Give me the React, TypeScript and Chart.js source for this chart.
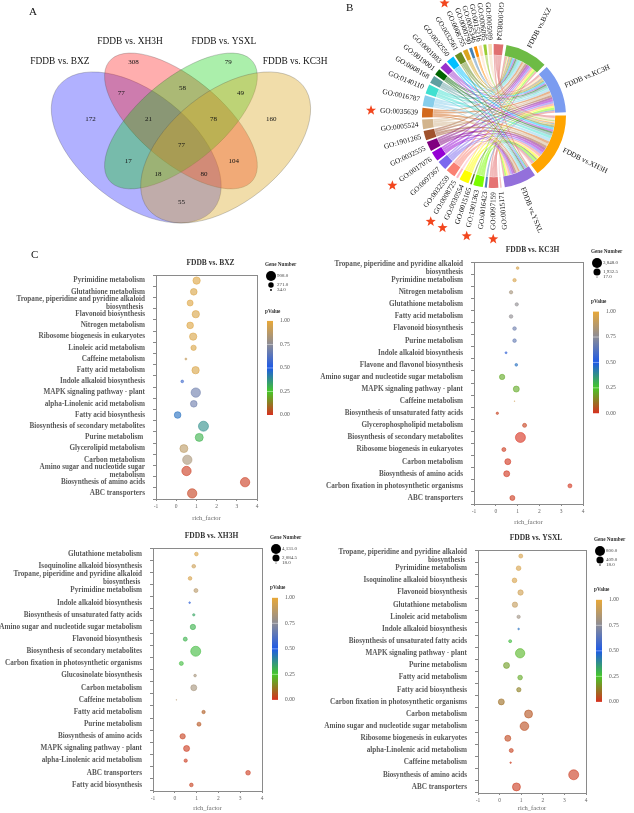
import React, { useEffect, useRef } from 'react';
import { Chart, registerables } from 'chart.js';
Chart.register(...registerables);

const SERIF = '"Liberation Serif", "Times New Roman", Times, serif';

// ---------------- Panel A : Venn ----------------
const vennSetNames = ['FDDB vs. BXZ', 'FDDB vs. XH3H', 'FDDB vs. YSXL', 'FDDB vs. KC3H'];
const vennSetLabelX = [0.094, 0.329, 0.644, 0.883];
const vennSetLabelY = [0.794, 0.869, 0.869, 0.794];
const vennEllipseX = [0.35, 0.5, 0.5, 0.65];
const vennEllipseY = [0.47, 0.57, 0.57, 0.47];
const vennEllipseA = [0.35, 0.33, 0.33, 0.35];
const vennEllipseB = [0.2, 0.15, 0.15, 0.2];
const vennEllipseRot = [135, 135, 45, 45];
const vennColors = ['rgba(40,40,255,0.36)', 'rgba(255,30,30,0.36)', 'rgba(0,205,0,0.33)', 'rgba(218,165,32,0.38)'];
const vennCounts = [172, 308, 79, 160, 77, 58, 49, 17, 104, 55, 21, 78, 18, 80, 77];
const vennCountX = [0.197, 0.341, 0.659, 0.803, 0.30, 0.505, 0.70, 0.323, 0.677, 0.502, 0.391, 0.609, 0.423, 0.577, 0.502];
const vennCountY = [0.576, 0.791, 0.791, 0.576, 0.675, 0.693, 0.675, 0.420, 0.420, 0.263, 0.576, 0.576, 0.370, 0.370, 0.479];

// ---------------- Panel B : chord ----------------
const comparisons = ['FDDB vs.BXZ', 'FDDB vs.KC3H', 'FDDB vs.XH3H', 'FDDB vs.YSXL'];
const compColors = ['#6dbb45', '#7b9cf0', '#ffa500', '#9370db'];
const goTerms = ['GO:0015171', 'GO:0097159', 'GO:0016423', 'GO:1901363', 'GO:0015165', 'GO:0030554', 'GO:0008725',
  'GO:0032559', 'GO:0097367', 'GO:0017076', 'GO:0032555', 'GO:1901265', 'GO:0005524', 'GO:0035639', 'GO:0016787',
  'GO:0140110', 'GO:0008168', 'GO:0019001', 'GO:0001883', 'GO:0032550', 'GO:0032561', 'GO:0008755', 'GO:0000790',
  'GO:0005346', 'GO:0015216', 'GO:0006085', 'GO:0005089', 'GO:0008324'];
const goColors = ['#f4c2c2', '#e57373', '#4f81bd', '#7cfc00', '#556b2f', '#ffff00', '#ffb6c1',
  '#fa8072', '#7b68ee', '#9400d3', '#800080', '#a0522d', '#d2b48c', '#d2691e', '#87ceeb',
  '#40e0d0', '#5f9ea0', '#006400', '#9932cc', '#00bfff', '#6b8e23', '#daa520', '#4682b4',
  '#ff8c00', '#ffdab9', '#9acd32', '#f5deb3', '#e07070'];
const goStarred = ['GO:0097159', 'GO:1901363', 'GO:0030554', 'GO:0008725', 'GO:0017076', 'GO:0035639', 'GO:0008755'];
// link weights: [BXZ, KC3H, XH3H, YSXL]
const goLinks = [
  [0, 0, 1.2, 0], [1.8, 2.1, 2.5, 1.6], [0, 1.0, 0.8, 0], [1.8, 2.1, 2.5, 1.6], [0, 0, 1.2, 0],
  [1.8, 2.1, 2.5, 1.6], [0, 0, 0.8, 1.0], [1.8, 2.1, 2.5, 1.6], [1.8, 2.1, 2.5, 1.6], [1.8, 2.1, 2.5, 1.6],
  [1.8, 2.1, 2.5, 1.6], [1.8, 2.1, 2.5, 1.6], [1.8, 2.1, 2.5, 1.6], [1.8, 2.1, 2.5, 1.6], [2.0, 2.4, 3.0, 1.6],
  [2.4, 1.6, 2.8, 1.2], [1.2, 2.0, 2.3, 1.0], [1.3, 1.4, 1.8, 1.0], [1.4, 1.5, 2.0, 1.1], [1.5, 1.6, 2.2, 1.2],
  [1.4, 1.5, 2.0, 1.1], [1.2, 1.4, 1.4, 0], [0.8, 0.9, 0.8, 0], [0.8, 0.8, 0.9, 0], [0.8, 0.8, 0.9, 0],
  [1.0, 0, 1.5, 0], [0, 1.2, 1.8, 0], [1.8, 2.1, 2.5, 1.6],
];

// ---------------- Panel C : bubbles ----------------
const TROPANE = ['Tropane, piperidine and pyridine alkaloid', 'biosynthesis '];

const bxzPathways = ['Pyrimidine metabolism', 'Glutathione metabolism', TROPANE, 'Flavonoid biosynthesis',
  'Nitrogen metabolism', 'Ribosome biogenesis in eukaryotes', 'Linoleic acid metabolism', 'Caffeine metabolism',
  'Fatty acid metabolism', 'Indole alkaloid biosynthesis', 'MAPK signaling pathway - plant',
  'alpha-Linolenic acid metabolism', 'Fatty acid biosynthesis', 'Biosynthesis of secondary metabolites',
  'Purine metabolism ', 'Glycerolipid metabolism', 'Carbon metabolism', ['Amino sugar and nucleotide sugar', 'metabolism'],
  'Biosynthesis of amino acids', 'ABC transporters'];
const bxzRich = [1.01, 0.87, 0.69, 0.97, 0.69, 0.84, 0.86, 0.48, 0.96, 0.30, 0.97, 0.87, 0.07, 1.35, 1.14, 0.38, 0.55, 0.51, 3.41, 0.79];
const bxzGenes = [489, 403, 327, 489, 403, 489, 259, 34, 489, 64, 792, 403, 403, 908, 581, 581, 792, 792, 792, 792];
const bxzP = [0.97, 0.96, 0.97, 0.96, 0.97, 0.96, 0.96, 0.9, 0.96, 0.58, 0.68, 0.68, 0.45, 0.38, 0.3, 0.88, 0.83, 0.02, 0.02, 0.03];
const bxzLegend = [908, 271, 34];

const kc3hPathways = [['Tropane, piperidine and pyridine alkaloid', 'biosynthesis'], 'Pyrimidine metabolism',
  'Nitrogen metabolism', 'Glutathione metabolism', 'Fatty acid metabolism', 'Flavonoid biosynthesis',
  'Purine metabolism', 'Indole alkaloid biosynthesis', 'Flavone and flavonol biosynthesis',
  'Amino sugar and nucleotide sugar metabolism', 'MAPK signaling pathway - plant', 'Caffeine metabolism',
  'Biosynthesis of unsaturated fatty acids', 'Glycerophospholipid metabolism', 'Biosynthesis of secondary metabolites',
  'Ribosome biogenesis in eukaryotes', 'Carbon metabolism', 'Biosynthesis of amino acids',
  'Carbon fixation in photosynthetic organisms', 'ABC transporters'];
const kc3hRich = [1.0, 0.86, 0.70, 0.96, 0.70, 0.86, 0.86, 0.47, 0.94, 0.29, 0.94, 0.86, 0.07, 1.32, 1.13, 0.37, 0.55, 0.50, 3.40, 0.76];
const kc3hGenes = [272, 429, 429, 429, 499, 499, 499, 154, 272, 1097, 1385, 17, 211, 616, 3848, 616, 1385, 1385, 616, 962];
const kc3hP = [0.95, 0.95, 0.82, 0.76, 0.76, 0.68, 0.66, 0.55, 0.45, 0.2, 0.2, 0.92, 0.03, 0.03, 0.0, 0.02, 0.01, 0.01, 0.01, 0.02];
const kc3hLegend = [3848, 1932.5, 17];

const xh3hPathways = ['Glutathione metabolism', 'Isoquinoline alkaloid biosynthesis', TROPANE, 'Pyrimidine metabolism',
  'Indole alkaloid biosynthesis', 'Biosynthesis of unsaturated fatty acids', 'Amino sugar and nucleotide sugar metabolism',
  'Flavonoid biosynthesis', 'Biosynthesis of secondary metabolites', 'Carbon fixation in photosynthetic organisms',
  'Glucosinolate biosynthesis', 'Carbon metabolism', 'Caffeine metabolism', 'Fatty acid metabolism', 'Purine metabolism',
  'Biosynthesis of amino acids', 'MAPK signaling pathway - plant', 'alpha-Linolenic acid metabolism', 'ABC transporters',
  'Fatty acid biosynthesis'];
const xh3hRich = [0.99, 0.87, 0.70, 0.97, 0.68, 0.87, 0.83, 0.48, 0.96, 0.30, 0.93, 0.87, 0.07, 1.32, 1.11, 0.36, 0.54, 0.50, 3.36, 0.76];
const xh3hGenes = [553, 553, 553, 661, 114, 226, 1178, 661, 4131, 661, 292, 1487, 18, 461, 661, 1178, 1487, 461, 897, 553];
const xh3hP = [0.96, 0.92, 0.95, 0.87, 0.55, 0.33, 0.3, 0.3, 0.28, 0.28, 0.82, 0.82, 0.86, 0.07, 0.06, 0.03, 0.02, 0.02, 0.02, 0.03];
const xh3hLegend = [4131, 2084.5, 18];

const ysxlPathways = [TROPANE, 'Pyrimidine metabolism', 'Isoquinoline alkaloid biosynthesis', 'Flavonoid biosynthesis',
  'Glutathione metabolism', 'Linoleic acid metabolism', 'Indole alkaloid biosynthesis',
  'Biosynthesis of unsaturated fatty acids', 'MAPK signaling pathway - plant', 'Purine metabolism',
  'Fatty acid metabolism', 'Fatty acid biosynthesis', 'Carbon fixation in photosynthetic organisms', 'Carbon metabolism',
  'Amino sugar and nucleotide sugar metabolism', 'Ribosome biogenesis in eukaryotes', 'alpha-Linolenic acid metabolism',
  'Caffeine metabolism', 'Biosynthesis of amino acids', 'ABC transporters'];
const ysxlRich = [0.98, 0.88, 0.69, 0.97, 0.71, 0.88, 0.88, 0.49, 0.95, 0.32, 0.95, 0.89, 0.08, 1.34, 1.15, 0.38, 0.54, 0.51, 3.43, 0.78];
const ysxlGenes = [128, 174, 174, 228, 228, 89, 22, 72, 698, 288, 174, 151, 288, 512, 600, 288, 128, 18, 800, 512];
const ysxlP = [0.95, 0.95, 0.95, 0.93, 0.9, 0.8, 0.45, 0.28, 0.22, 0.18, 0.2, 0.13, 0.1, 0.06, 0.05, 0.04, 0.03, 0.02, 0.02, 0.02];
const ysxlLegend = [800, 409, 18];

const pTicks = [1.0, 0.75, 0.5, 0.25, 0.0];
const pStops = [0, 0.25, 0.5, 0.75, 1];
const pStopRGB = [[215, 48, 31], [70, 200, 40], [30, 90, 230], [140, 140, 150], [232, 168, 56]];

function pColor(p: number, a: number) {
  let k = 0;
  while (k < pStops.length - 2 && p > pStops[k + 1]) k++;
  const t = Math.max(0, Math.min(1, (p - pStops[k]) / (pStops[k + 1] - pStops[k])));
  const c = pStopRGB[k].map((v, m) => Math.round(v + (pStopRGB[k + 1][m] - v) * t));
  return `rgba(${c[0]},${c[1]},${c[2]},${a})`;
}
function hexA(hex: string, a: number) {
  const n = parseInt(hex.slice(1), 16);
  return `rgba(${(n >> 16) & 255},${(n >> 8) & 255},${n & 255},${a})`;
}

// ---------- Venn ----------
const vennPlugin = {
  id: 'venn',
  beforeDatasetsDraw(chart: any) {
    const { ctx } = chart;
    const xs = chart.scales.x, ys = chart.scales.y;
    const x0 = xs.getPixelForValue(0), x1 = xs.getPixelForValue(1);
    const y0 = ys.getPixelForValue(0), y1 = ys.getPixelForValue(1);
    for (let i = 0; i < vennEllipseX.length; i++) {
      ctx.save();
      ctx.transform(x1 - x0, 0, 0, y1 - y0, x0, y0);
      ctx.beginPath();
      ctx.ellipse(vennEllipseX[i], vennEllipseY[i], vennEllipseA[i], vennEllipseB[i], (vennEllipseRot[i] * Math.PI) / 180, 0, Math.PI * 2);
      ctx.restore();
      ctx.save();
      ctx.fillStyle = vennColors[i];
      ctx.fill();
      ctx.strokeStyle = 'rgba(70,70,70,0.45)';
      ctx.lineWidth = 0.6;
      ctx.stroke();
      ctx.restore();
    }
  },
  afterDatasetsDraw(chart: any) {
    const { ctx } = chart;
    ctx.save();
    ctx.fillStyle = '#111';
    ctx.textAlign = 'center';
    ctx.textBaseline = 'middle';
    ctx.font = `7px ${SERIF}`;
    chart.getDatasetMeta(0).data.forEach((pt: any, i: number) => ctx.fillText(String(vennCounts[i]), pt.x, pt.y));
    ctx.font = `9.4px ${SERIF}`;
    chart.getDatasetMeta(1).data.forEach((pt: any, i: number) => ctx.fillText(vennSetNames[i], pt.x, pt.y));
    ctx.restore();
  },
};

function makeVenn(canvas: HTMLCanvasElement) {
  return new Chart(canvas, {
    type: 'scatter',
    data: {
      datasets: [
        { data: vennCounts.map((_, i) => ({ x: vennCountX[i], y: vennCountY[i] })), pointRadius: 0 },
        { data: vennSetNames.map((_, i) => ({ x: vennSetLabelX[i], y: vennSetLabelY[i] })), pointRadius: 0 },
      ],
    },
    options: {
      responsive: false,
      animation: false,
      events: [],
      layout: { padding: 0 },
      plugins: { legend: { display: false }, tooltip: { enabled: false } },
      scales: {
        x: { type: 'linear', min: -0.107, max: 1.0336, display: false },
        y: { type: 'linear', min: 0.083, max: 1.0265, display: false },
      },
    } as any,
    plugins: [vennPlugin],
  });
}

// ---------- Chord ----------
const rowSums = goLinks.map((r) => r.reduce((a, b) => a + b, 0));
const colSums = comparisons.map((_, j) => goLinks.reduce((a, r) => a + r[j], 0));
const GAP_S = 2.58, GAP_G = 1.52, GAP_L = 2.58;

function drawStar(ctx: CanvasRenderingContext2D, x: number, y: number, ro: number, ri: number) {
  ctx.beginPath();
  for (let k = 0; k < 10; k++) {
    const r = k % 2 === 0 ? ro : ri;
    const ang = -Math.PI / 2 + (k * Math.PI) / 5;
    const px = x + r * Math.cos(ang), py = y + r * Math.sin(ang);
    if (k === 0) ctx.moveTo(px, py); else ctx.lineTo(px, py);
  }
  ctx.closePath();
  ctx.fill();
}

const chordPlugin = {
  id: 'chord',
  afterDatasetsDraw(chart: any) {
    const ctx: CanvasRenderingContext2D = chart.ctx;
    const arcs = chart.getDatasetMeta(0).data as any[];
    const cx = arcs[0].x, cy = arcs[0].y, rIn = arcs[0].innerRadius, rOut = arcs[0].outerRadius;
    const compArc = comparisons.map((_, j) => arcs[2 * j]);
    const goArc = goTerms.map((_, i) => arcs[2 * comparisons.length + 2 * i]);
    const goSub: number[][][] = goLinks.map(() => [[0, 0], [0, 0], [0, 0], [0, 0]]);
    const compSub: number[][][] = goLinks.map(() => [[0, 0], [0, 0], [0, 0], [0, 0]]);
    goLinks.forEach((row, i) => {
      const a = goArc[i];
      const s = (a.endAngle - a.startAngle) / rowSums[i];
      let c = a.startAngle;
      for (let j = row.length - 1; j >= 0; j--) { const w = row[j] * s; goSub[i][j] = [c, c + w]; c += w; }
    });
    comparisons.forEach((_, j) => {
      const a = compArc[j];
      const s = (a.endAngle - a.startAngle) / colSums[j];
      let c = a.startAngle;
      for (let i = goLinks.length - 1; i >= 0; i--) { const w = goLinks[i][j] * s; compSub[i][j] = [c, c + w]; c += w; }
    });
    const R = rIn - 0.3;
    ctx.save();
    goLinks.forEach((row, i) => {
      row.forEach((w, j) => {
        if (w <= 0) return;
        const [a1, a2] = goSub[i][j];
        const [b1, b2] = compSub[i][j];
        ctx.beginPath();
        ctx.arc(cx, cy, R, a1, a2);
        ctx.quadraticCurveTo(cx, cy, cx + R * Math.cos(b1), cy + R * Math.sin(b1));
        ctx.arc(cx, cy, R, b1, b2);
        ctx.quadraticCurveTo(cx, cy, cx + R * Math.cos(a1), cy + R * Math.sin(a1));
        ctx.closePath();
        ctx.fillStyle = hexA(goColors[i], 0.5);
        ctx.fill();
      });
    });
    ctx.restore();

    ctx.save();
    ctx.font = `7.3px ${SERIF}`;
    ctx.fillStyle = '#111';
    ctx.textBaseline = 'middle';
    goArc.forEach((a, i) => {
      const th = (a.startAngle + a.endAngle) / 2;
      const rl = rOut + 4;
      ctx.save();
      ctx.translate(cx + rl * Math.cos(th), cy + rl * Math.sin(th));
      ctx.rotate(th + Math.PI);
      ctx.textAlign = 'right';
      ctx.fillText(goTerms[i], 0, 0);
      ctx.restore();
      if (goStarred.includes(goTerms[i])) {
        const w = ctx.measureText(goTerms[i]).width;
        const rs = rl + w + 9;
        ctx.save();
        ctx.fillStyle = '#f2461e';
        drawStar(ctx, cx + rs * Math.cos(th), cy + rs * Math.sin(th), 5.3, 2.2);
        ctx.restore();
      }
    });
    compArc.forEach((a, j) => {
      const th = (a.startAngle + a.endAngle) / 2;
      const rl = rOut + 5;
      ctx.save();
      ctx.translate(cx + rl * Math.cos(th), cy + rl * Math.sin(th));
      ctx.rotate(th);
      ctx.textAlign = 'left';
      ctx.fillText(comparisons[j], 0, 0);
      ctx.restore();
    });
    ctx.restore();
  },
};

function makeChord(canvas: HTMLCanvasElement) {
  const values: number[] = [];
  const colors: string[] = [];
  comparisons.forEach((_, j) => {
    values.push(colSums[j]); colors.push(compColors[j]);
    values.push(j < comparisons.length - 1 ? GAP_S : GAP_L); colors.push('rgba(0,0,0,0)');
  });
  goTerms.forEach((_, i) => {
    values.push(rowSums[i]); colors.push(goColors[i]);
    values.push(i < goTerms.length - 1 ? GAP_G : GAP_L); colors.push('rgba(0,0,0,0)');
  });
  return new Chart(canvas, {
    type: 'doughnut',
    data: {
      labels: values.map((_, i) => String(i)),
      datasets: [{ data: values, backgroundColor: colors, borderWidth: 0, hoverBorderWidth: 0, hoverOffset: 0, offset: 0 } as any],
    },
    options: {
      responsive: false,
      animation: false,
      events: [],
      rotation: 10,
      cutout: '85%',
      spacing: 0,
      layout: { padding: { left: 68, right: 68, top: 44, bottom: 62 } },
      plugins: { legend: { display: false }, tooltip: { enabled: false } },
    } as any,
    plugins: [chordPlugin],
  });
}

// ---------- Bubbles ----------
type BubbleData = { title: string; labels: any[]; rich: number[]; genes: number[]; p: number[]; legend: number[] };
type BubbleLayout = { left: number; top: number; w: number; h: number; areaL: number; areaR: number; areaT: number; areaB: number; xh: number };

const bubbleSets: BubbleData[] = [
  { title: 'FDDB vs. BXZ', labels: bxzPathways, rich: bxzRich, genes: bxzGenes, p: bxzP, legend: bxzLegend },
  { title: 'FDDB vs. KC3H', labels: kc3hPathways, rich: kc3hRich, genes: kc3hGenes, p: kc3hP, legend: kc3hLegend },
  { title: 'FDDB vs. XH3H', labels: xh3hPathways, rich: xh3hRich, genes: xh3hGenes, p: xh3hP, legend: xh3hLegend },
  { title: 'FDDB vs. YSXL', labels: ysxlPathways, rich: ysxlRich, genes: ysxlGenes, p: ysxlP, legend: ysxlLegend },
];
const bubbleLayouts: BubbleLayout[] = [
  { left: 0, top: 250, w: 320, h: 280, areaL: 156, areaR: 257, areaT: 25, areaB: 249, xh: 23 },
  { left: 316, top: 240, w: 318, h: 290, areaL: 158, areaR: 267, areaT: 22, areaB: 264, xh: 22 },
  { left: 0, top: 525, w: 320, h: 288, areaL: 153, areaR: 262, areaT: 23, areaB: 266, xh: 21 },
  { left: 316, top: 525, w: 318, h: 288, areaL: 162, areaR: 270, areaT: 25, areaB: 268, xh: 19 },
];

const fmtGene = (n: number) => n.toLocaleString('en-US', { minimumFractionDigits: 1, maximumFractionDigits: 1 });

function bubbleDecor(d: BubbleData, rOf: (n: number) => number) {
  return {
    id: 'bubbleDecor',
    afterDraw(chart: any) {
      const ctx: CanvasRenderingContext2D = chart.ctx;
      const { left: L, right: R, top: T, bottom: B } = chart.chartArea;
      const H = B - T;
      ctx.save();
      ctx.strokeStyle = '#8a8a8a';
      ctx.lineWidth = 1;
      ctx.strokeRect(Math.round(L) + 0.5, Math.round(T) + 0.5, Math.round(R - L), Math.round(B - T));
      // title
      ctx.fillStyle = '#333';
      ctx.font = `bold 7.5px ${SERIF}`;
      ctx.textAlign = 'center';
      ctx.textBaseline = 'middle';
      ctx.fillText(d.title, (L + R) / 2 + 4, T - 12);
      // gene legend
      ctx.textAlign = 'left';
      ctx.font = `bold 5.2px ${SERIF}`;
      ctx.fillText('Gene Number', R + 8, T - 10);
      const cys = [T + 1, T + 10, T + 15];
      d.legend.forEach((g, k) => {
        ctx.fillStyle = '#000';
        ctx.beginPath();
        ctx.arc(R + 14, cys[k], Math.max(rOf(g), 0.5), 0, Math.PI * 2);
        ctx.fill();
        ctx.fillStyle = '#444';
        ctx.font = `5px ${SERIF}`;
        ctx.fillText(fmtGene(g), R + 20, cys[k]);
      });
      // pValue
      ctx.fillStyle = '#333';
      ctx.font = `bold 5.2px ${SERIF}`;
      ctx.fillText('pValue', R + 8, T + 0.165 * H);
      const bx = R + 10, bw = 6, by = T + 0.205 * H, bh = 0.42 * H;
      const grad = ctx.createLinearGradient(0, by + bh, 0, by);
      pStops.forEach((s, k) => grad.addColorStop(s, `rgb(${pStopRGB[k].join(',')})`));
      ctx.fillStyle = grad;
      ctx.fillRect(bx, by, bw, bh);
      ctx.font = `5.5px ${SERIF}`;
      pTicks.forEach((v) => {
        const yy = by + bh * (1 - v);
        if (v > 0 && v < 1) {
          ctx.strokeStyle = 'rgba(255,255,255,0.7)';
          ctx.lineWidth = 0.6;
          ctx.beginPath(); ctx.moveTo(bx, yy); ctx.lineTo(bx + bw, yy); ctx.stroke();
        }
        ctx.fillStyle = '#555';
        ctx.fillText(v.toFixed(2), bx + bw + 7, yy);
      });
      ctx.restore();
    },
  };
}

function makeBubble(canvas: HTMLCanvasElement, d: BubbleData, lay: BubbleLayout) {
  const maxG = d.legend[0];
  const rOf = (n: number) => 5 * Math.sqrt(n / maxG);
  return new Chart(canvas, {
    type: 'bubble',
    data: {
      datasets: [{
        data: d.labels.map((_, i) => ({ x: d.rich[i], y: i, r: rOf(d.genes[i]) })),
        backgroundColor: d.p.map((p) => pColor(p, 0.62)),
        borderColor: d.p.map((p) => pColor(p, 0.9)),
        borderWidth: 0.6,
        hoverRadius: 0,
        clip: false,
      } as any],
    },
    options: {
      responsive: false,
      animation: false,
      events: [],
      layout: { padding: { left: 0, top: lay.areaT, right: lay.w - lay.areaR, bottom: lay.h - lay.areaB - lay.xh } },
      plugins: { legend: { display: false }, tooltip: { enabled: false } },
      scales: {
        x: {
          type: 'linear', min: -1, max: 4,
          ticks: { stepSize: 1, font: { family: SERIF, size: 5.5 }, color: '#666', padding: 2, maxRotation: 0 },
          grid: { drawOnChartArea: false, tickLength: 2, color: '#888' },
          border: { display: false },
          title: { display: true, text: 'rich_factor', color: '#666', font: { family: SERIF, size: 6.5 }, padding: 0 },
          afterFit: (s: any) => { s.height = lay.xh; },
        },
        y: {
          type: 'category', labels: d.labels, offset: true,
          ticks: { autoSkip: false, font: { family: SERIF, size: 7.2, weight: 'bold', lineHeight: 1.05 }, color: '#5a5a5a', padding: 8 },
          grid: { offset: true, drawOnChartArea: false, tickLength: 3, color: '#888' },
          border: { display: false },
          afterFit: (s: any) => { s.width = lay.areaL; },
        },
      },
    } as any,
    plugins: [bubbleDecor(d, rOf)],
  });
}

const letterStyle = (left: number, top: number): React.CSSProperties => ({
  position: 'absolute', left, top, font: `11px ${SERIF}`, color: '#111', lineHeight: '11px',
});

export default function App() {
  const vennRef = useRef<HTMLCanvasElement>(null);
  const chordRef = useRef<HTMLCanvasElement>(null);
  const b0 = useRef<HTMLCanvasElement>(null);
  const b1 = useRef<HTMLCanvasElement>(null);
  const b2 = useRef<HTMLCanvasElement>(null);
  const b3 = useRef<HTMLCanvasElement>(null);
  const bRefs = [b0, b1, b2, b3];

  useEffect(() => {
    document.body.style.margin = '0';
    document.body.style.background = '#fff';
    const charts: Chart[] = [];
    charts.push(makeVenn(vennRef.current!));
    charts.push(makeChord(chordRef.current!));
    bubbleSets.forEach((d, i) => charts.push(makeBubble(bRefs[i].current!, d, bubbleLayouts[i])));
    return () => charts.forEach((c) => c.destroy());
  }, []);

  return (
    <div style={{ position: 'relative', width: 634, height: 813, overflow: 'hidden', background: '#fff' }}>
      <canvas ref={vennRef} width={340} height={250} style={{ position: 'absolute', left: 0, top: 0, width: 340, height: 250 }} />
      <canvas ref={chordRef} width={280} height={250} style={{ position: 'absolute', left: 354, top: 0, width: 280, height: 250 }} />
      {bubbleLayouts.map((l, i) => (
        <canvas key={i} ref={bRefs[i]} width={l.w} height={l.h}
          style={{ position: 'absolute', left: l.left, top: l.top, width: l.w, height: l.h }} />
      ))}
      <div style={letterStyle(29, 6)}>A</div>
      <div style={letterStyle(346, 2)}>B</div>
      <div style={letterStyle(31, 249)}>C</div>
    </div>
  );
}
